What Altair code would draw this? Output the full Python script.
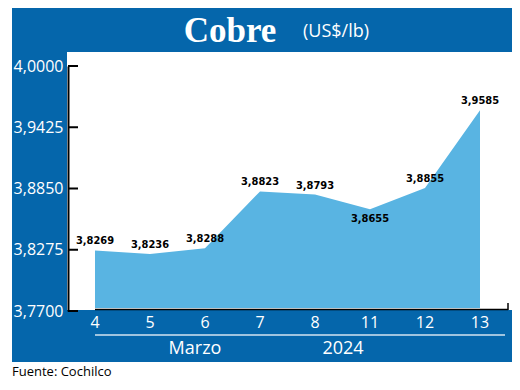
import altair as alt
import pandas as pd

days = ["4", "5", "6", "7", "8", "11", "12", "13"]
prices = [3.8269, 3.8236, 3.8288, 3.8823, 3.8793, 3.8655, 3.8855, 3.9585]
y_ticks = [3.77, 3.8275, 3.885, 3.9425, 4.0]
title_main = "Cobre"
title_unit = "(US$/lb)"
month_label = "Marzo"
year_label = "2024"
source_label = "Fuente: Cochilco"

DARK = "#0566AB"
LIGHT = "#59B4E2"
SANS = "Open Sans"
NARROW = "'DejaVu Sans Condensed', 'Liberation Sans Narrow', sans-serif"

df = pd.DataFrame({"day": days, "price": prices})
ticks_df = pd.DataFrame({"t": y_ticks})

xs = alt.Scale(type="point", domain=days, range=[27, 412], padding=0)
ys = alt.Scale(domain=[3.77, 4.0], nice=False, zero=False)
one = alt.Data(values=[{}])

def rect(x, x2, y, y2, color):
    return alt.Chart(one).mark_rect(color=color).encode(
        x=alt.value(x), x2=alt.value(x2), y=alt.value(y), y2=alt.value(y2))

def label(txt, x, y, size, color="white", font=SANS, align="center", weight="normal"):
    return alt.Chart(one).mark_text(
        text=txt, font=font, fontSize=size, color=color, align=align,
        baseline="middle", fontWeight=weight
    ).encode(x=alt.value(x), y=alt.value(y))

banner = rect(-56, 444, -58, -14, DARK)
leftcol = rect(-56, -1, -14, 296, DARK)
bottom = rect(-56, 444, 244, 296, DARK)

area = alt.Chart(df).mark_area(color=LIGHT, interpolate="linear").encode(
    x=alt.X("day:O", scale=xs, axis=None),
    y=alt.Y("price:Q", scale=ys, axis=alt.Axis(
        values=y_ticks, ticks=False, grid=False, domain=True,
        domainColor="black", domainWidth=2,
        labelColor="white", labelFont=SANS, labelFontSize=16,
        labelPadding=5, title=None, zindex=2,
        labelExpr="replace(format(datum.value, '.4f'), '.', ',')")),
    y2=alt.datum(3.7728),
)

tick_rules = alt.Chart(ticks_df).mark_rule(color="black", strokeWidth=2).encode(
    y=alt.Y("t:Q", scale=ys), x=alt.value(0), x2=alt.value(10))

base_line = alt.Chart(one).mark_rule(color="black", strokeWidth=1.5).encode(
    x=alt.value(27), x2=alt.value(440), y=alt.value(243.5))
end_tick = alt.Chart(one).mark_rule(color="black", strokeWidth=1.5).encode(
    x=alt.value(440), y=alt.value(237), y2=alt.value(244))

vals_above = alt.Chart(df).transform_filter(alt.datum.day != "11").transform_calculate(
    lbl="replace(format(datum.price, '.4f'), '.', ',')"
).mark_text(font=NARROW, fontSize=11, fontWeight="bold", color="black",
            baseline="middle", dy=-9).encode(
    x=alt.X("day:O", scale=xs), y=alt.Y("price:Q", scale=ys), text="lbl:N")

vals_below = alt.Chart(df).transform_filter(alt.datum.day == "11").transform_calculate(
    lbl="replace(format(datum.price, '.4f'), '.', ',')"
).mark_text(font=NARROW, fontSize=11, fontWeight="bold", color="black",
            baseline="middle", dy=10).encode(
    x=alt.X("day:O", scale=xs), y=alt.Y("price:Q", scale=ys), text="lbl:N")

xlabels = alt.Chart(df).mark_text(font=SANS, fontSize=16, color="white",
                                   baseline="middle").encode(
    x=alt.X("day:O", scale=xs), y=alt.value(257), text="day:N")

sep = alt.Chart(one).mark_rule(color="#d5e4f0", strokeWidth=1.5).encode(
    x=alt.value(27), x2=alt.value(437), y=alt.value(269))

t1 = label(title_main, 162, -35, 35, font="Liberation Serif", weight="bold")
t2 = label(title_unit, 268, -34, 18)
m = label(month_label, 127, 283, 18)
yr = label(year_label, 275, 283, 18)
src = label(source_label, -56, 306, 13, color="black", align="left")

chart = alt.layer(
    banner, leftcol, bottom, area, tick_rules, base_line, end_tick,
    vals_above, vals_below, xlabels, sep, t1, t2, m, yr, src
).properties(
    width=440, height=245,
    autosize=alt.AutoSizeParams(type="none"),
    padding={"left": 60, "top": 58, "right": 4, "bottom": 71},
).configure_view(stroke=None)

chart.save("out.html", embed_options={"renderer": "svg", "actions": False})
